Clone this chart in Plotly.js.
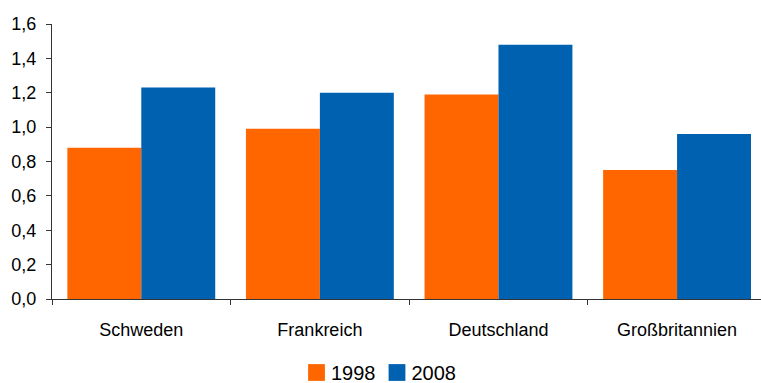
<!DOCTYPE html>
<html>
<head>
<meta charset="utf-8">
<script src="https://cdn.plot.ly/plotly-3.0.1.min.js"></script>
<style>
  html, body { margin: 0; padding: 0; background: #fff; }
  #chart { width: 761px; height: 383px; }
</style>
</head>
<body>
<div id="chart"></div>
<script>
// Countries and values per year
const countries = ['Schweden', 'Frankreich', 'Deutschland', 'Großbritannien'];
const years = ['1998', '2008'];
const values1998 = [0.88, 0.99, 1.19, 0.75];
const values2008 = [1.23, 1.20, 1.48, 0.96];
const yTicks = [0, 0.2, 0.4, 0.6, 0.8, 1.0, 1.2, 1.4, 1.6];

const FONT = 'Liberation Sans, Arial, sans-serif';

const traces = [
  { type: 'bar', name: years[0], x: countries, y: values1998,
    marker: { color: '#FF6600' }, hoverinfo: 'x+y' },
  { type: 'bar', name: years[1], x: countries, y: values2008,
    marker: { color: '#0061B1' }, hoverinfo: 'x+y' }
];

const layout = {
  width: 761, height: 383,
  margin: { l: 52, r: 0, t: 23.5, b: 83.5, pad: 0 },
  paper_bgcolor: '#fff', plot_bgcolor: '#fff',
  separators: ',.',
  font: { family: FONT, color: '#000', size: 18 },
  barmode: 'group', bargap: 0.172, bargroupgap: 0,
  showlegend: true,
  legend: {
    orientation: 'h', xref: 'container', yref: 'container',
    x: 0.5, xanchor: 'center', y: 0, yanchor: 'bottom',
    font: { family: FONT, size: 20, color: '#000' },
    traceorder: 'normal'
  },
  xaxis: {
    type: 'category', range: [-0.5, 3.47],
    showline: true, linecolor: '#333', linewidth: 1,
    ticks: 'outside', ticklen: 5, tickcolor: '#333', tickson: 'boundaries',
    showgrid: false, zeroline: false,
    tickfont: { family: FONT, size: 18, color: '#000' },
    ticklabelstandoff: 14
  },
  yaxis: {
    range: [0, 1.6], tickvals: yTicks, tickformat: '.1f',
    showline: true, linecolor: '#333', linewidth: 1,
    ticks: 'outside', ticklen: 5, tickcolor: '#333',
    showgrid: false, zeroline: false,
    tickfont: { family: FONT, size: 18, color: '#000' },
    ticklabelstandoff: 6
  }
};

function appendTransform(el, extra) {
  const t = el.getAttribute('transform') || '';
  el.setAttribute('transform', t + ' ' + extra);
}

Plotly.newPlot('chart', traces, layout, { staticPlot: true, displayModeBar: false })
  .then(function (gd) {
    // larger legend swatches, sitting closer to their labels
    gd.querySelectorAll('.legend .legendpoints path').forEach(function (p) {
      appendTransform(p, 'translate(5.5,0) scale(1.4)');
    });
    // tighter spacing between the two legend entries
    const items = gd.querySelectorAll('.legend .traces');
    if (items.length > 1) appendTransform(items[1], 'translate(-9,0)');
    // nudge the legend block down a little
    const leg = gd.querySelector('.legend');
    if (leg) appendTransform(leg, 'translate(0,9)');
  });
</script>
</body>
</html>
